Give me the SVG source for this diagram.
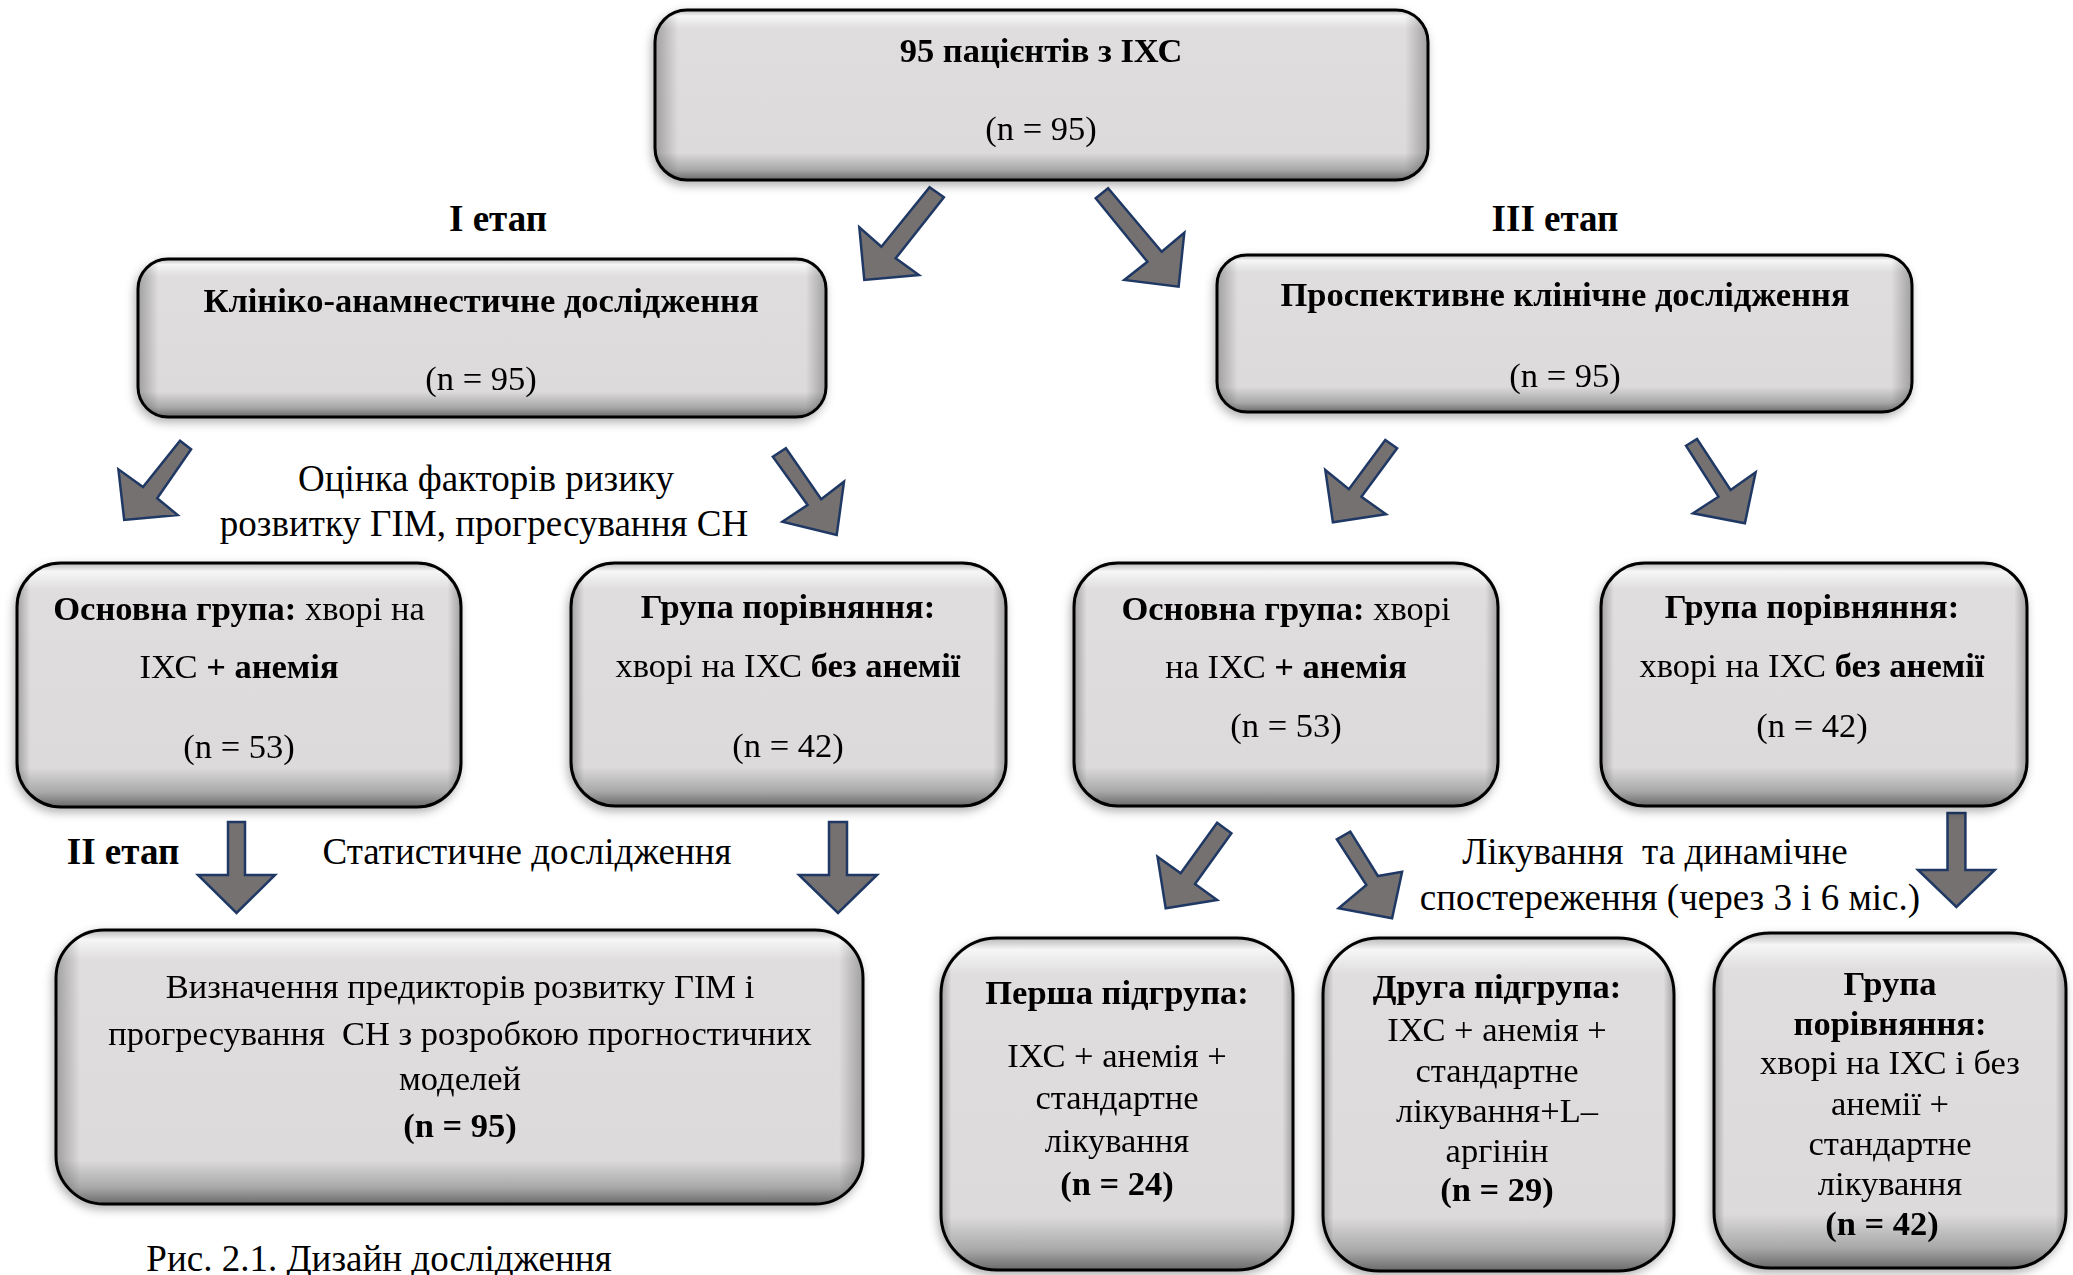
<svg xmlns="http://www.w3.org/2000/svg" width="2073" height="1275" viewBox="0 0 2073 1275">
<style>
text{font-family:"Liberation Serif","Times New Roman",serif;fill:#000;text-anchor:middle}
.t{font-size:37px}
.s{font-size:34.5px}
.b{font-weight:bold}
.box{fill:url(#gV);stroke:none}
.ov{fill:url(#gH);stroke:#000;stroke-width:3}
.arr{fill:#767171;stroke:#1f3864;stroke-width:2.5;stroke-linejoin:miter}
</style>
<defs>
<linearGradient id="gV" x1="0" y1="0" x2="0" y2="1">
<stop offset="0" stop-color="#b8b8b8"/>
<stop offset="0.035" stop-color="#f6f6f6"/>
<stop offset="0.11" stop-color="#dfddde"/>
<stop offset="0.84" stop-color="#dcdadb"/>
<stop offset="0.94" stop-color="#a8a8a8"/>
<stop offset="1" stop-color="#6a6a6a"/>
</linearGradient>
<linearGradient id="gH" x1="0" y1="0" x2="1" y2="0">
<stop offset="0" stop-color="#000" stop-opacity="0.28"/>
<stop offset="0.03" stop-color="#000" stop-opacity="0"/>
<stop offset="0.97" stop-color="#000" stop-opacity="0"/>
<stop offset="1" stop-color="#000" stop-opacity="0.28"/>
</linearGradient>
<filter id="sh" x="-10%" y="-10%" width="120%" height="125%">
<feGaussianBlur in="SourceAlpha" stdDeviation="5"/>
<feOffset dx="-2" dy="4" result="b"/>
<feFlood flood-color="#000" flood-opacity="0.3"/>
<feComposite in2="b" operator="in"/>
<feMerge><feMergeNode/><feMergeNode in="SourceGraphic"/></feMerge>
</filter>
</defs>
<rect width="2073" height="1275" fill="#fff"/>

<g id="connectors">
<polygon class="arr" points="929.6,187.3 943.9,197.3 895.7,258.3 918.9,275 864.3,280 859.3,227.3 881.4,246.7"/>
<polygon class="arr" points="1095.7,198.3 1108.1,188.3 1161.7,251.7 1184.3,232.7 1178.6,286.7 1124.3,280 1147.4,261.7"/>
<polygon class="arr" points="180,440.7 191.1,449.3 157.2,498.3 177.6,515 124.2,520 118.4,469.3 143,487"/>
<polygon class="arr" points="772.8,456.7 785.9,448.3 821.2,499.3 844,481.7 836.7,535 782.4,521.7 807.6,505"/>
<polygon class="arr" points="1385.3,440 1397.1,448.3 1361.4,496.7 1386,514.3 1332.9,522.3 1325.3,470 1348.9,489.3"/>
<polygon class="arr" points="1686,445.7 1697,439 1730.6,490 1755.6,472.3 1744.9,523.3 1693,513.3 1718.5,496.7"/>
<polygon class="arr" points="228,822 245,822 245,875 275,875 236.5,913 198,875 228,875"/>
<polygon class="arr" points="829,822 847,822 847,875 877,875 838,913 799,875 829,875"/>
<polygon class="arr" points="1217.1,822.7 1231.4,833.3 1195,884 1217.1,900 1165.7,908.3 1157.5,856.7 1180.7,873.3"/>
<polygon class="arr" points="1336.8,839.3 1350.3,831.7 1377.9,876 1402.1,871.7 1392.1,918.3 1338.6,908.3 1366.4,885"/>
<polygon class="arr" points="1947.5,813 1965.4,813 1965.4,870 1994.7,870 1956.4,907 1918,870 1947.5,870"/>
</g>

<g id="n-top" filter="url(#sh)">
<rect class="box" x="655" y="10" width="773" height="170" rx="32"/>
<rect class="ov" x="655" y="10" width="773" height="170" rx="32"/>
<text class="s b" x="1041" y="62">95 пацієнтів з ІХС</text>
<text class="s" x="1041" y="140">(n = 95)</text>
</g>

<g id="stage1"><text class="t b" x="498" y="231">І етап</text></g>
<g id="stage3"><text class="t b" x="1555" y="231">ІІІ етап</text></g>

<g id="n-clin" filter="url(#sh)">
<rect class="box" x="138" y="259" width="688" height="158" rx="30"/>
<rect class="ov" x="138" y="259" width="688" height="158" rx="30"/>
<text class="s b" x="481" y="312">Клініко-анамнестичне дослідження</text>
<text class="s" x="481" y="390">(n = 95)</text>
</g>

<g id="n-prosp" filter="url(#sh)">
<rect class="box" x="1217" y="255" width="695" height="157" rx="30"/>
<rect class="ov" x="1217" y="255" width="695" height="157" rx="30"/>
<text class="s b" x="1565" y="306">Проспективне клінічне дослідження</text>
<text class="s" x="1565" y="387">(n = 95)</text>
</g>

<g id="lbl-risk">
<text class="t" x="486" y="491">Оцінка факторів ризику</text>
<text class="t" x="484" y="536">розвитку ГІМ, прогресування СН</text>
</g>

<g id="n-main1" filter="url(#sh)">
<rect class="box" x="17" y="563" width="444" height="244" rx="44"/>
<rect class="ov" x="17" y="563" width="444" height="244" rx="44"/>
<text class="s" x="239" y="620"><tspan class="b">Основна група:</tspan> хворі на</text>
<text class="s" x="239" y="678">ІХС <tspan class="b">+ анемія</tspan></text>
<text class="s" x="239" y="758">(n = 53)</text>
</g>

<g id="n-comp1" filter="url(#sh)">
<rect class="box" x="571" y="563" width="435" height="243" rx="44"/>
<rect class="ov" x="571" y="563" width="435" height="243" rx="44"/>
<text class="s b" x="788" y="618">Група порівняння:</text>
<text class="s" x="788" y="677">хворі на ІХС <tspan class="b">без анемії</tspan></text>
<text class="s" x="788" y="757">(n = 42)</text>
</g>

<g id="n-main2" filter="url(#sh)">
<rect class="box" x="1074" y="563" width="424" height="243" rx="44"/>
<rect class="ov" x="1074" y="563" width="424" height="243" rx="44"/>
<text class="s" x="1286" y="620"><tspan class="b">Основна група:</tspan> хворі</text>
<text class="s" x="1286" y="678">на ІХС <tspan class="b">+ анемія</tspan></text>
<text class="s" x="1286" y="737">(n = 53)</text>
</g>

<g id="n-comp2" filter="url(#sh)">
<rect class="box" x="1601" y="563" width="426" height="243" rx="44"/>
<rect class="ov" x="1601" y="563" width="426" height="243" rx="44"/>
<text class="s b" x="1812" y="618">Група порівняння:</text>
<text class="s" x="1812" y="677">хворі на ІХС <tspan class="b">без анемії</tspan></text>
<text class="s" x="1812" y="737">(n = 42)</text>
</g>

<g id="stage2"><text class="t b" x="123" y="864">ІІ етап</text></g>
<g id="lbl-stat"><text class="t" x="527" y="864">Статистичне дослідження</text></g>

<g id="lbl-treat">
<text class="t" x="1655" y="864" xml:space="preserve">Лікування  та динамічне</text>
<text class="t" x="1670" y="910">спостереження (через 3 і 6 міс.)</text>
</g>

<g id="n-pred" filter="url(#sh)">
<rect class="box" x="56" y="930" width="807" height="274" rx="48"/>
<rect class="ov" x="56" y="930" width="807" height="274" rx="48"/>
<text class="s" x="460" y="998">Визначення предикторів розвитку ГІМ і</text>
<text class="s" x="460" y="1045" xml:space="preserve">прогресування  СН з розробкою прогностичних</text>
<text class="s" x="460" y="1090">моделей</text>
<text class="s b" x="460" y="1137">(n = 95)</text>
</g>

<g id="n-sub1" filter="url(#sh)">
<rect class="box" x="941" y="938" width="352" height="332" rx="56"/>
<rect class="ov" x="941" y="938" width="352" height="332" rx="56"/>
<text class="s b" x="1117" y="1004">Перша підгрупа:</text>
<text class="s" x="1117" y="1067">ІХС + анемія +</text>
<text class="s" x="1117" y="1109">стандартне</text>
<text class="s" x="1117" y="1152">лікування</text>
<text class="s b" x="1117" y="1195">(n = 24)</text>
</g>

<g id="n-sub2" filter="url(#sh)">
<rect class="box" x="1323" y="938" width="351" height="333" rx="56"/>
<rect class="ov" x="1323" y="938" width="351" height="333" rx="56"/>
<text class="s b" x="1497" y="998">Друга підгрупа:</text>
<text class="s" x="1497" y="1041">ІХС + анемія +</text>
<text class="s" x="1497" y="1082">стандартне</text>
<text class="s" x="1497" y="1122">лікування+L–</text>
<text class="s" x="1497" y="1162">аргінін</text>
<text class="s b" x="1497" y="1201">(n = 29)</text>
</g>

<g id="n-comp3" filter="url(#sh)">
<rect class="box" x="1714" y="933" width="352" height="335" rx="56"/>
<rect class="ov" x="1714" y="933" width="352" height="335" rx="56"/>
<text class="s b" x="1890" y="995">Група</text>
<text class="s b" x="1890" y="1035">порівняння:</text>
<text class="s" x="1890" y="1074">хворі на ІХС і без</text>
<text class="s" x="1890" y="1115">анемії +</text>
<text class="s" x="1890" y="1155">стандартне</text>
<text class="s" x="1890" y="1195">лікування</text>
<text class="s b" x="1882" y="1235">(n = 42)</text>
</g>

<g id="caption"><text class="t" x="379" y="1271">Рис. 2.1. Дизайн дослідження</text></g>
</svg>
